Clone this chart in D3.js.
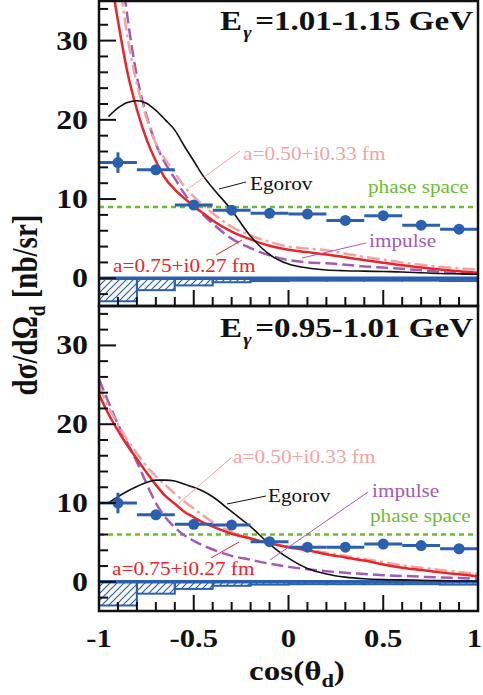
<!DOCTYPE html>
<html>
<head>
<meta charset="utf-8">
<script src="https://cdn.jsdelivr.net/npm/d3@7"></script>
<style>
  body { margin: 0; background: #fff; }
  svg { display: block; }
  text { font-family: "Liberation Serif", "Times New Roman", serif; }
</style>
</head>
<body>
<div id="chart"></div>
<script>
// measured bins (centres), width 0.2
const cosBins = [-0.9, -0.7, -0.5, -0.3, -0.1, 0.1, 0.3, 0.5, 0.7, 0.9];

// upper panel, E = 1.01-1.15 GeV
const hiPts = [14.6, 13.7, 9.25, 8.6, 8.2, 8.1, 7.3, 7.9, 6.7, 6.2];
const hiErr = [1.3, 0.6, 0.5, 0.4, 0.4, 0.4, 0.4, 0.4, 0.4, 0.4];
const hiSys = [2.9, 1.5, 0.9, 0.5, 0.35, 0.3, 0.3, 0.3, 0.3, 0.35];
const hiPhase = 9.0;

// lower panel, E = 0.95-1.01 GeV
const loPts = [10.0, 8.5, 7.3, 7.2, 5.1, 4.4, 4.4, 4.8, 4.6, 4.2];
const loErr = [1.3, 0.6, 0.5, 0.4, 0.4, 0.4, 0.4, 0.4, 0.4, 0.4];
const loSys = [3.0, 1.5, 0.9, 0.5, 0.35, 0.3, 0.3, 0.3, 0.3, 0.35];
const loPhase = 6.0;

// model curves sampled on a common cos grid
const curveCos = [-1, -0.95, -0.9, -0.85, -0.8, -0.75, -0.7, -0.65, -0.6, -0.55, -0.5, -0.45, -0.4,
                  -0.3, -0.2, -0.1, 0, 0.1, 0.2, 0.3, 0.4, 0.5, 0.6, 0.7, 0.8, 0.9, 1];

const hiRed    = [48, 40, 32.5, 26.0, 21.3, 17.6, 14.8, 12.6, 11.2, 10.1, 9.1, 8.2, 7.3,
                  5.9, 4.9, 4.1, 3.6, 3.3, 3.0, 2.65, 2.3, 1.95, 1.65, 1.35, 1.1, 0.9, 0.7];
const hiPink   = [60, 48, 39, 30.5, 24.5, 20.3, 17.0, 15.0, 13.3, 11.6, 10.3, 9.2, 8.2,
                  6.5, 5.4, 4.6, 4.0, 3.75, 3.55, 3.1, 2.7, 2.35, 2.0, 1.7, 1.45, 1.25, 1.1];
const hiImpulse = [70, 55, 43, 33.0, 25.5, 20.6, 17.0, 14.5, 12.6, 10.7, 9.2, 8.0, 6.9,
                  5.0, 3.8, 2.9, 2.3, 2.0, 1.9, 1.7, 1.5, 1.35, 1.2, 1.0, 0.8, 0.65, 0.5];
const hiEgorov = [null, 20.4, 21.5, 22.2, 22.4, 22.1, 21.2, 20.0, 18.7, 16.7, 14.8, 12.9, 11.4,
                  8.6, 5.3, 3.0, 1.8, 1.3, 1.05, 0.95, 0.9, 0.85, 0.8, 0.7, 0.6, 0.55, 0.5];

const loRed    = [23.8, 21.3, 19.2, 17.3, 15.6, 13.9, 12.3, 10.9, 9.9, 8.9, 8.2, 7.5, 7.0,
                  6.1, 5.5, 4.9, 4.4, 4.0, 3.5, 3.1, 2.7, 2.2, 1.8, 1.5, 1.2, 0.95, 0.7];
const loPink   = [24.8, 22.2, 20.0, 18.0, 16.3, 14.7, 13.4, 12.3, 11.2, 10.2, 9.3, 8.4, 7.6,
                  6.3, 5.5, 4.9, 4.5, 4.1, 3.7, 3.3, 2.9, 2.5, 2.1, 1.8, 1.5, 1.25, 1.0];
const loImpulse = [25.7, 22.8, 20.0, 17.6, 15.2, 12.5, 10.0, 8.2, 6.9, 5.9, 5.2, 4.6, 4.1,
                  3.3, 2.8, 2.3, 1.9, 1.6, 1.35, 1.15, 1.0, 0.85, 0.75, 0.65, 0.55, 0.48, 0.4];
const loEgorov = [null, 10.0, 10.8, 11.5, 12.1, 12.6, 12.9, 12.9, 12.8, 12.4, 12.0, 11.5, 10.8,
                  8.9, 7.0, 4.8, 3.0, 1.7, 1.0, 0.6, 0.4, 0.3, 0.25, 0.2, 0.15, 0.1, 0.1];

const xTicks = d3.range(-10, 11).map(d => d / 10);
const xTickLabels = [-1, -0.5, 0, 0.5, 1];
const yTicks = d3.range(-2, 35, 2);
const yTickLabels = [0, 10, 20, 30];

const C = {
  blue: "#2b5fb0", red: "#e8252b", pink: "#f4a3a3", purple: "#a35bb5",
  green: "#6cbd35", black: "#111"
};
const SX = 1.18;   // the original figure is a bit wider than tall

const width = 483, height = 695;
const left = 99, right = 478;

const svg = d3.select("#chart").append("svg")
  .attr("width", width).attr("height", height);

const defs = svg.append("defs");
defs.append("pattern")
  .attr("id", "hatch").attr("patternUnits", "userSpaceOnUse")
  .attr("width", 7).attr("height", 7)
  .append("path")
  .attr("d", "M-1,1 L1,-1 M0,7 L7,0 M6,8 L8,6")
  .attr("stroke", C.blue).attr("stroke-width", 1.2);

const x = d3.scaleLinear().domain([-1, 1]).range([left, right]);

// text with optional tspans: parts = [[str, dy, size, style, dx]]
function label(g, px, py, parts, o) {
  const t = g.append("text")
    .attr("transform", `translate(${px},${py}) scale(${o.sx || SX},1)`)
    .attr("text-anchor", o.anchor || "start")
    .attr("font-size", o.size)
    .attr("font-weight", o.weight || "normal")
    .attr("fill", o.fill || "#111");
  parts.forEach(p => {
    const s = t.append("tspan").text(p[0]);
    if (p[1]) s.attr("dy", p[1]);
    if (p[2]) s.attr("font-size", p[2]);
    if (p[3]) s.attr("font-style", p[3]);
    if (p[4]) s.attr("dx", p[4]);
  });
  return t;
}

const panels = [
  {
    id: "hi", top: 1, bottom: 306, dom: [-3.5, 35], energy: "=1.01-1.15 GeV", titleY: 30,
    pts: hiPts, err: hiErr, sys: hiSys, phase: hiPhase,
    red: hiRed, pink: hiPink, impulse: hiImpulse, egorov: hiEgorov,
    notes: {
      pink:   { tx: 243, ty: 160, line: [240, 151, 189, 188] },
      egorov: { tx: 250, ty: 190, line: [246, 182, 219, 189] },
      phase:  { tx: 368, ty: 193 },
      impulse:{ tx: 369, ty: 247, line: [366, 243, 302, 258] },
      red:    { tx: 113, ty: 272, line: [216, 255, 242, 240] }
    }
  },
  {
    id: "lo", top: 306, bottom: 611, dom: [-3.7, 35], energy: "=0.95-1.01 GeV", titleY: 337,
    pts: loPts, err: loErr, sys: loSys, phase: loPhase,
    red: loRed, pink: loPink, impulse: loImpulse, egorov: loEgorov,
    notes: {
      pink:   { tx: 233, ty: 463, line: [231, 458, 179, 503] },
      egorov: { tx: 268, ty: 502, line: [266, 496, 227, 504] },
      phase:  { tx: 370, ty: 522 },
      impulse:{ tx: 372, ty: 497, line: [368, 492, 270, 560] },
      red:    { tx: 112, ty: 575, line: [211, 558, 239, 542] }
    }
  }
];

panels.forEach(p => {
  const y = d3.scaleLinear().domain(p.dom).range([p.bottom, p.top]);
  const g = svg.append("g");

  defs.append("clipPath").attr("id", "clip-" + p.id)
    .append("rect").attr("x", left).attr("y", p.top)
    .attr("width", right - left).attr("height", p.bottom - p.top);
  const plot = g.append("g").attr("clip-path", `url(#clip-${p.id})`);

  // systematic error boxes below zero
  plot.selectAll(".sys").data(cosBins).enter().append("rect")
    .attr("x", d => x(d - 0.1))
    .attr("y", y(0))
    .attr("width", x(0.1) - x(-0.1))
    .attr("height", (d, i) => y(-p.sys[i]) - y(0))
    .attr("fill", "url(#hatch)")
    .attr("stroke", C.blue).attr("stroke-width", 2);

  plot.append("line")
    .attr("x1", left).attr("x2", right)
    .attr("y1", y(0)).attr("y2", y(0))
    .attr("stroke", C.blue).attr("stroke-width", 3.5);

  // phase space
  plot.append("line")
    .attr("x1", left).attr("x2", right)
    .attr("y1", y(p.phase)).attr("y2", y(p.phase))
    .attr("stroke", C.green).attr("stroke-width", 2.5)
    .attr("stroke-dasharray", "5,4");

  const line = d3.line()
    .defined(d => d[1] != null)
    .x(d => x(d[0])).y(d => y(d[1]))
    .curve(d3.curveMonotoneX);
  const series = [
    { v: p.impulse, c: C.purple, w: 2.5, dash: "12,5" },
    { v: p.pink, c: C.pink, w: 2.5, dash: "13,4,3,4" },
    { v: p.red, c: C.red, w: 2.5, dash: null },
    { v: p.egorov, c: C.black, w: 1.6, dash: null }
  ];
  series.forEach(s => {
    plot.append("path")
      .datum(curveCos.map((c, i) => [c, s.v[i]]))
      .attr("d", line)
      .attr("fill", "none")
      .attr("stroke", s.c).attr("stroke-width", s.w)
      .attr("stroke-dasharray", s.dash);
  });

  // data points
  const pts = plot.selectAll(".pt").data(cosBins).enter().append("g");
  pts.append("line")
    .attr("x1", d => x(d - 0.1)).attr("x2", d => x(d + 0.1))
    .attr("y1", (d, i) => y(p.pts[i])).attr("y2", (d, i) => y(p.pts[i]))
    .attr("stroke", C.blue).attr("stroke-width", 3);
  pts.append("line")
    .attr("x1", d => x(d)).attr("x2", d => x(d))
    .attr("y1", (d, i) => y(p.pts[i] - p.err[i])).attr("y2", (d, i) => y(p.pts[i] + p.err[i]))
    .attr("stroke", C.blue).attr("stroke-width", 3);
  pts.append("circle")
    .attr("cx", d => x(d)).attr("cy", (d, i) => y(p.pts[i]))
    .attr("r", 5.5).attr("fill", C.blue);

  // annotations
  const n = p.notes;
  const lead = (l, c) => g.append("line")
    .attr("x1", l[0]).attr("y1", l[1]).attr("x2", l[2]).attr("y2", l[3])
    .attr("stroke", c).attr("stroke-width", 1);
  lead(n.pink.line, C.pink);
  lead(n.egorov.line, C.black);
  lead(n.impulse.line, C.purple);
  lead(n.red.line, C.red);
  label(g, n.pink.tx, n.pink.ty, [["a=0.50+i0.33 fm"]], { size: 18, fill: C.pink });
  label(g, n.egorov.tx, n.egorov.ty, [["Egorov"]], { size: 18, fill: C.black });
  label(g, n.phase.tx, n.phase.ty, [["phase space"]], { size: 18, fill: C.green });
  label(g, n.impulse.tx, n.impulse.ty, [["impulse"]], { size: 18, fill: C.purple });
  label(g, n.red.tx, n.red.ty, [["a=0.75+i0.27 fm"]], { size: 18, fill: C.red });

  // title
  label(g, 473, p.titleY, [["E"], ["γ", 8, 17, "italic", 1], [p.energy, -8, null, null, 3]],
    { size: 28, weight: "bold", anchor: "end" });

  // frame and ticks
  g.append("rect")
    .attr("x", left).attr("y", p.top)
    .attr("width", right - left).attr("height", p.bottom - p.top)
    .attr("fill", "none").attr("stroke", "#111").attr("stroke-width", 2.5);

  g.selectAll(".xt").data(xTicks).enter().append("line")
    .attr("x1", d => x(d)).attr("x2", d => x(d))
    .attr("y1", p.bottom)
    .attr("y2", d => p.bottom - (Math.abs(d * 2 - Math.round(d * 2)) < 1e-6 ? 16 : 9))
    .attr("stroke", "#111").attr("stroke-width", 2);

  g.selectAll(".yt").data(yTicks).enter().append("line")
    .attr("x1", left)
    .attr("x2", d => left + (d % 10 === 0 ? 17 : 9))
    .attr("y1", d => y(d)).attr("y2", d => y(d))
    .attr("stroke", "#111").attr("stroke-width", 2);

  yTickLabels.forEach(v => {
    label(g, 88, y(v) + 9, [[String(v)]], { size: 27, weight: "bold", anchor: "end" });
  });
});

// x tick labels and axis titles
const gx = svg.append("g");
xTickLabels.forEach(v => {
  // keep the last label inside the picture edge
  const px = v === 1 ? 482 : x(v);
  label(gx, px, 647, [[String(v)]], { size: 26, weight: "bold", anchor: v === 1 ? "end" : "middle" });
});
label(gx, 297, 680, [["cos(θ"], ["d", 7, 19], [")", -7]], { size: 28, weight: "bold", anchor: "middle" });

svg.append("text")
  .attr("transform", "translate(37,305) rotate(-90) scale(1.0,1.2)")
  .attr("text-anchor", "middle")
  .attr("font-size", 29).attr("font-weight", "bold").attr("fill", "#111")
  .call(t => {
    t.append("tspan").text("dσ/dΩ");
    t.append("tspan").text("d").attr("dy", 7).attr("font-size", 19);
    t.append("tspan").text(" [nb/sr]").attr("dy", -7);
  });
</script>
</body>
</html>
